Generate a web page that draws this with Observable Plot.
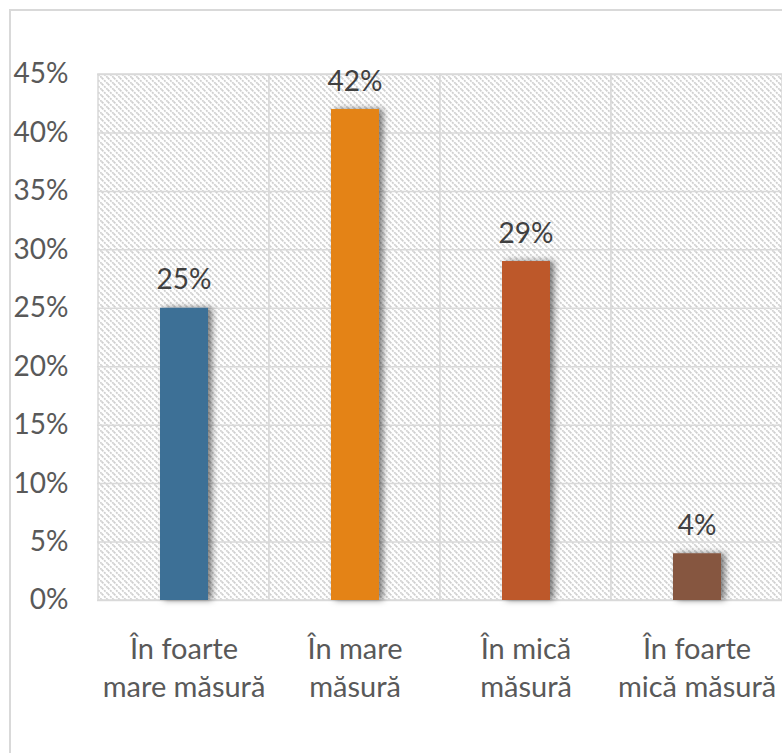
<!DOCTYPE html>
<html><head><meta charset="utf-8">
<script src="https://cdn.jsdelivr.net/npm/d3@7"></script>
<script src="https://cdn.jsdelivr.net/npm/@observablehq/plot@0.6"></script>
<style>
html,body{margin:0;padding:0;background:#fff;overflow:hidden;}
#wrap{position:relative;width:782px;height:753px;overflow:hidden;}
#frame{position:absolute;left:9px;top:9px;width:900px;height:900px;border:2px solid #d9d9d9;box-sizing:border-box;}
#chart{position:absolute;left:0;top:0;}
</style></head><body><div id="wrap"><div id="frame"></div><div id="chart"></div></div>
<script>
const categories = ["În foarte mare măsură", "În mare măsură", "În mică măsură", "În foarte mică măsură"];
const categoryLabels = ["În foarte\nmare măsură", "În mare\nmăsură", "În mică\nmăsură", "În foarte\nmică măsură"];
const values = [0.25, 0.42, 0.29, 0.04];
const valueLabels = ["25%", "42%", "29%", "4%"];
const barColors = ["#3E6F96", "#E48312", "#BD582C", "#865640"];
const yTicks = [0, 0.05, 0.10, 0.15, 0.20, 0.25, 0.30, 0.35, 0.40, 0.45];

const data = categories.map((c, i) => ({cat: c, label: categoryLabels[i], value: values[i], vlabel: valueLabels[i], color: barColors[i]}));

const chart = Plot.plot({
  width: 782,
  height: 753,
  marginLeft: 97,
  marginRight: 0,
  marginTop: 74,
  marginBottom: 153,
  style: {fontFamily: "Lato, sans-serif", fontSize: "28px", background: "transparent"},
  x: {domain: categories, padding: 0, axis: null},
  y: {domain: [0, 0.45], axis: null},
  marks: [
    Plot.barY(data, {x: "cat", y1: 0, y2: () => 0.45, fill: "url(#hatch)", stroke: "#d9d9d9", strokeWidth: 1.5}),
    Plot.gridY(yTicks, {stroke: "#d9d9d9", strokeOpacity: 1, strokeWidth: 1.5}),
    Plot.axisY({ticks: yTicks, tickFormat: d3.format(".0%"), tickSize: 0, tickPadding: 29, fill: "#595959", fontSize: 28, label: null}),
    Plot.barY(data, {x: "cat", y: "value", fill: "color", insetLeft: 62, insetRight: 61}),
    Plot.text(data, {x: "cat", y: "value", text: "vlabel", lineAnchor: "bottom", dy: -19, fill: "#404040", fontSize: 28}),
    Plot.text(data, {x: "cat", y: () => 0, text: "label", lineAnchor: "top", dy: 31, lineHeight: 1.33, fill: "#595959", fontSize: 29})
  ]
});

const svg = d3.select(chart);
const defs = svg.insert("defs", ":first-child");
const pat = defs.append("pattern").attr("id", "hatch").attr("patternUnits", "userSpaceOnUse").attr("width", 6).attr("height", 6);
pat.append("rect").attr("width", 6).attr("height", 6).attr("fill", "#ffffff");
pat.append("path").attr("d", "M0,0L6,6M-1,5L1,7M5,-1L7,1").attr("stroke", "#cfcfcf").attr("stroke-width", 1.7).attr("stroke-dasharray", "2,1");
const f = defs.append("filter").attr("id", "shadow").attr("x", "-30%").attr("y", "-30%").attr("width", "160%").attr("height", "160%");
f.append("feDropShadow").attr("dx", 4).attr("dy", 0).attr("stdDeviation", 3).attr("flood-color", "#000").attr("flood-opacity", 0.5);
const barGroups = svg.selectAll("g[aria-label='bar']").nodes();
d3.select(barGroups[barGroups.length - 1]).attr("filter", "url(#shadow)");

document.getElementById("chart").appendChild(chart);
</script>
</body></html>
